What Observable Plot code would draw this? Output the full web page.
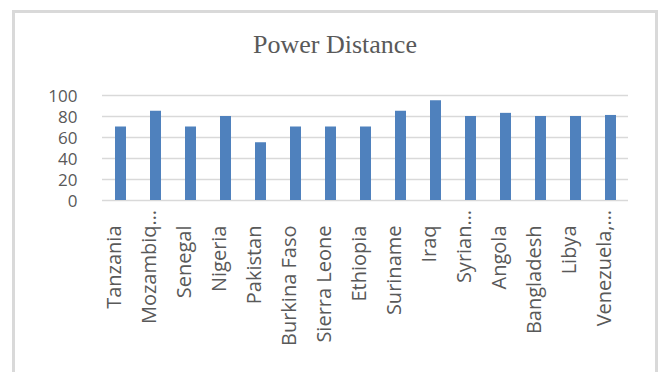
<!DOCTYPE html>
<html>
<head>
<meta charset="utf-8">
<script src="https://cdn.jsdelivr.net/npm/d3@7"></script>
<script src="https://cdn.jsdelivr.net/npm/@observablehq/plot@0.6"></script>
<style>
  html, body { margin: 0; padding: 0; background: #ffffff; }
  body { width: 661px; height: 372px; overflow: hidden; position: relative; }
  #frame {
    position: absolute; left: 12px; top: 10px; width: 646px; height: 400px;
    box-sizing: border-box; border: 3px solid #d9d9d9; border-bottom: none;
  }
  #title {
    position: absolute; left: 12px; top: 30px; width: 646px; height: 30px;
    line-height: 30px; text-align: center;
    font-family: "Liberation Serif", "Times New Roman", serif; font-size: 26px; color: #595959;
  }
  #chart { position: absolute; left: 0; top: 60px; }
</style>
</head>
<body>
<div id="frame"></div>
<div id="title"></div>
<div id="chart"></div>
<script>
// Category labels as shown on the axis (a trailing "…" marks a shortened name)
const countries = ["Tanzania", "Mozambiq…", "Senegal", "Nigeria", "Pakistan", "Burkina Faso",
  "Sierra Leone", "Ethiopia", "Suriname", "Iraq", "Syrian…", "Angola", "Bangladesh", "Libya", "Venezuela,…"];
// Power distance index per country
const powerDistance = [70, 85, 70, 80, 55, 70, 70, 70, 85, 95, 80, 83, 80, 80, 81];
// Value axis ticks
const yTicks = [0, 20, 40, 60, 80, 100];
const chartTitle = "Power Distance";

document.getElementById("title").textContent = chartTitle;

const rows = countries.map((c, i) => ({
  country: c,
  value: powerDistance[i],
  base: c.replace(/…$/, ""),
  shortened: c.endsWith("…")
}));

const textColor = "#595959";

const chart = Plot.plot({
  width: 661,
  height: 312,
  marginLeft: 102,
  marginRight: 33,
  marginTop: 35,
  marginBottom: 172,
  style: { fontFamily: "'Open Sans', sans-serif", color: textColor, background: "transparent", overflow: "visible" },
  x: { domain: countries, paddingInner: 0.686, paddingOuter: 0.343, axis: null },
  y: { domain: [0, 100], axis: null },
  marks: [
    Plot.ruleY(yTicks, { stroke: "#d9d9d9", strokeWidth: 1.5 }),
    Plot.barY(rows, { x: "country", y: "value", fill: "#4f81bd" }),
    Plot.axisY({ ticks: yTicks, tickSize: 0, tickPadding: 25, fontSize: 17, label: null, fill: textColor, dy: 1 }),
    // category names, rotated, ending just below the baseline
    Plot.text(rows, {
      x: "country", frameAnchor: "bottom", dy: 25, rotate: -90,
      textAnchor: "end", text: "base", fontSize: 20, fill: textColor
    }),
    // ellipsis for shortened names continues past the common end line
    Plot.text(rows.filter(d => d.shortened), {
      x: "country", frameAnchor: "bottom", dy: 25, rotate: -90,
      textAnchor: "start", text: () => "…", fontSize: 20, fill: textColor
    })
  ]
});

document.getElementById("chart").appendChild(chart);
</script>
</body>
</html>
